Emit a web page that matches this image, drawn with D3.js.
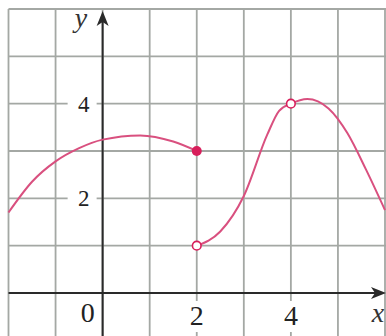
<!DOCTYPE html>
<html>
<head>
<meta charset="utf-8">
<script src="https://cdn.jsdelivr.net/npm/d3@7"></script>
<style>
  body { margin: 0; background: #fff; }
  svg { display: block; }
</style>
</head>
<body>
<svg id="chart" width="386" height="336"></svg>
<script>
// Curve pieces
const leftX = [-2, -1.5, -1, -0.5, 0, 0.8, 1.5, 2];
const leftY = [1.7, 2.35, 2.78, 3.06, 3.24, 3.33, 3.2, 3.0];
const rightX = [2, 2.5, 3, 3.5, 3.75, 4, 4.35, 4.8, 5.2, 5.6, 6];
const rightY = [1, 1.3, 2.05, 3.35, 3.85, 4, 4.1, 3.9, 3.38, 2.6, 1.75];

// Special points: filled and open circles
const filledPts = [[2, 3]];
const openPts = [[2, 1], [4, 4]];

// Axis ticks
const xTicks = [2, 4];
const yTicks = [2, 4];
const gridX = [-2, -1, 0, 1, 2, 3, 4, 5, 6];
const gridY = [1, 2, 3, 4, 5, 6];

const svg = d3.select('#chart');
const W = 386, H = 336;

const x = d3.scaleLinear().domain([-2, 6]).range([8.5, 385]);
const y = d3.scaleLinear().domain([0, 6]).range([293, 9]);

const gridColor = '#a4a8a4';
const axisColor = '#2a2a2a';
const curveColor = '#d9507f';
const dotColor = '#d81e5b';

// Grid
svg.append('g').selectAll('line').data(gridX).join('line')
  .attr('x1', (d) => x(d)).attr('x2', (d) => x(d))
  .attr('y1', y(6)).attr('y2', H)
  .attr('stroke', gridColor).attr('stroke-width', 1.8);

svg.append('g').selectAll('line').data(gridY).join('line')
  .attr('x1', x(-2)).attr('x2', W)
  .attr('y1', (d) => y(d)).attr('y2', (d) => y(d))
  .attr('stroke', gridColor).attr('stroke-width', 1.8);

// White boxes behind tick labels
svg.append('g').selectAll('rect').data(yTicks).join('rect')
  .attr('x', x(0) - 35).attr('y', (d) => y(d) - 11)
  .attr('width', 29).attr('height', 22)
  .attr('fill', '#fff');

svg.append('g').selectAll('rect').data(xTicks).join('rect')
  .attr('x', (d) => x(d) - 12).attr('y', y(0) + 8)
  .attr('width', 24).attr('height', 31)
  .attr('fill', '#fff');

// Axes
svg.append('line')
  .attr('x1', x(-2)).attr('x2', W - 6)
  .attr('y1', y(0)).attr('y2', y(0))
  .attr('stroke', axisColor).attr('stroke-width', 2);

svg.append('line')
  .attr('x1', x(0)).attr('x2', x(0))
  .attr('y1', H).attr('y2', 20)
  .attr('stroke', axisColor).attr('stroke-width', 2);

// Arrow heads
svg.append('path')
  .attr('d', `M${W},${y(0)} L${W - 15},${y(0) - 6} L${W - 11},${y(0)} L${W - 15},${y(0) + 6} Z`)
  .attr('fill', axisColor);

svg.append('path')
  .attr('d', `M${x(0)},11 L${x(0) - 6},26 L${x(0)},22 L${x(0) + 6},26 Z`)
  .attr('fill', axisColor);

// Curves
const line = d3.line()
  .x((d) => x(d[0]))
  .y((d) => y(d[1]))
  .curve(d3.curveMonotoneX);

svg.append('path')
  .datum(leftX.map((d, i) => [d, leftY[i]]))
  .attr('d', line)
  .attr('fill', 'none')
  .attr('stroke', curveColor)
  .attr('stroke-width', 2);

svg.append('path')
  .datum(rightX.map((d, i) => [d, rightY[i]]))
  .attr('d', line)
  .attr('fill', 'none')
  .attr('stroke', curveColor)
  .attr('stroke-width', 2);

// Dots
svg.append('g').selectAll('circle').data(filledPts).join('circle')
  .attr('cx', (d) => x(d[0])).attr('cy', (d) => y(d[1]))
  .attr('r', 5)
  .attr('fill', dotColor);

svg.append('g').selectAll('circle').data(openPts).join('circle')
  .attr('cx', (d) => x(d[0])).attr('cy', (d) => y(d[1]))
  .attr('r', 4.3)
  .attr('fill', '#fff')
  .attr('stroke', dotColor)
  .attr('stroke-width', 1.6);

// Tick labels
const font = 'Liberation Serif, DejaVu Serif, serif';

svg.append('g').selectAll('text').data(yTicks).join('text')
  .attr('x', x(0) - 19).attr('y', (d) => y(d) + 8)
  .attr('text-anchor', 'middle')
  .attr('font-family', font).attr('font-size', 23)
  .attr('fill', '#222')
  .text((d) => d);

svg.append('g').selectAll('text').data(xTicks).join('text')
  .attr('x', (d) => x(d)).attr('y', y(0) + 32)
  .attr('text-anchor', 'middle')
  .attr('font-family', font).attr('font-size', 28)
  .attr('fill', '#222')
  .text((d) => d);

svg.append('text')
  .attr('x', x(0) - 15).attr('y', y(0) + 29)
  .attr('text-anchor', 'middle')
  .attr('font-family', font).attr('font-size', 28)
  .attr('fill', '#222')
  .text('0');

// Axis names
svg.append('text')
  .attr('x', 378).attr('y', y(0) + 29)
  .attr('text-anchor', 'middle')
  .attr('font-family', font).attr('font-size', 28)
  .attr('font-style', 'italic')
  .attr('fill', '#333')
  .text('x');

svg.append('text')
  .attr('x', 81).attr('y', 27)
  .attr('text-anchor', 'middle')
  .attr('font-family', font).attr('font-size', 28)
  .attr('font-style', 'italic')
  .attr('fill', '#333')
  .text('y');
</script>
</body>
</html>
